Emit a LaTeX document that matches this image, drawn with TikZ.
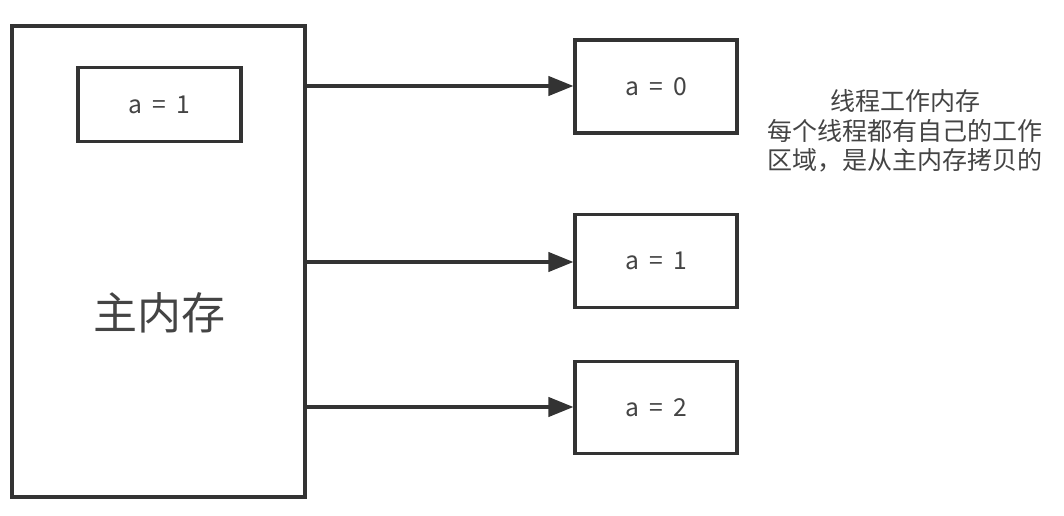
\documentclass[tikz,border=0pt]{standalone}
\usepackage{fontspec}
\setmainfont{Noto Sans CJK SC}
\usetikzlibrary{arrows.meta}
\definecolor{ln}{HTML}{333333}
\definecolor{tx}{HTML}{444444}
\newcommand{\eqsp}{\hspace{0.42em}}
\tikzset{
  box/.style={draw=ln, line width=2.4pt, fill=white, inner sep=0pt, text=tx},
  conn/.style={draw=ln, line width=2.4pt, -{Triangle[length=18.75pt,width=14.5pt]}},
  lbl/.style={font=\fontsize{18.5}{22}\selectfont},
}
\begin{document}
\begin{tikzpicture}[x=0.75pt,y=-0.75pt]
\useasboundingbox (0,0) rectangle (1064,516);
\node[box, minimum width=293*0.75pt, minimum height=471*0.75pt] (main) at (158.5,261.5) {};
\node[text=tx, font=\fontsize{33}{40}\selectfont] (mainlbl) at (159,313) {主内存};
\node[box, lbl, minimum width=163*0.75pt, minimum height=74*0.75pt] (inner) at (159.5,104.5) {a\eqsp=\eqsp1};
\node[box, lbl, minimum width=162*0.75pt, minimum height=93*0.75pt] (b0) at (656,86.5) {a\eqsp=\eqsp0};
\node[box, lbl, minimum width=162*0.75pt, minimum height=93*0.75pt] (b1) at (656,261) {a\eqsp=\eqsp1};
\node[box, lbl, minimum width=162*0.75pt, minimum height=92*0.75pt] (b2) at (656,407.5) {a\eqsp=\eqsp2};
\coordinate (s0) at (305,86);
\coordinate (s1) at (305,262);
\coordinate (s2) at (305,407);
\draw[conn] (s0) -- (b0.west |- s0);
\draw[conn] (s1) -- (b1.west |- s1);
\draw[conn] (s2) -- (b2.west |- s2);
\node[text=tx, align=center, font=\fontsize{18.75}{22.3}\selectfont] (note) at (905,131) {线程工作内存\\每个线程都有自己的工作\\区域，是从主内存拷贝的};
\end{tikzpicture}
\end{document}
